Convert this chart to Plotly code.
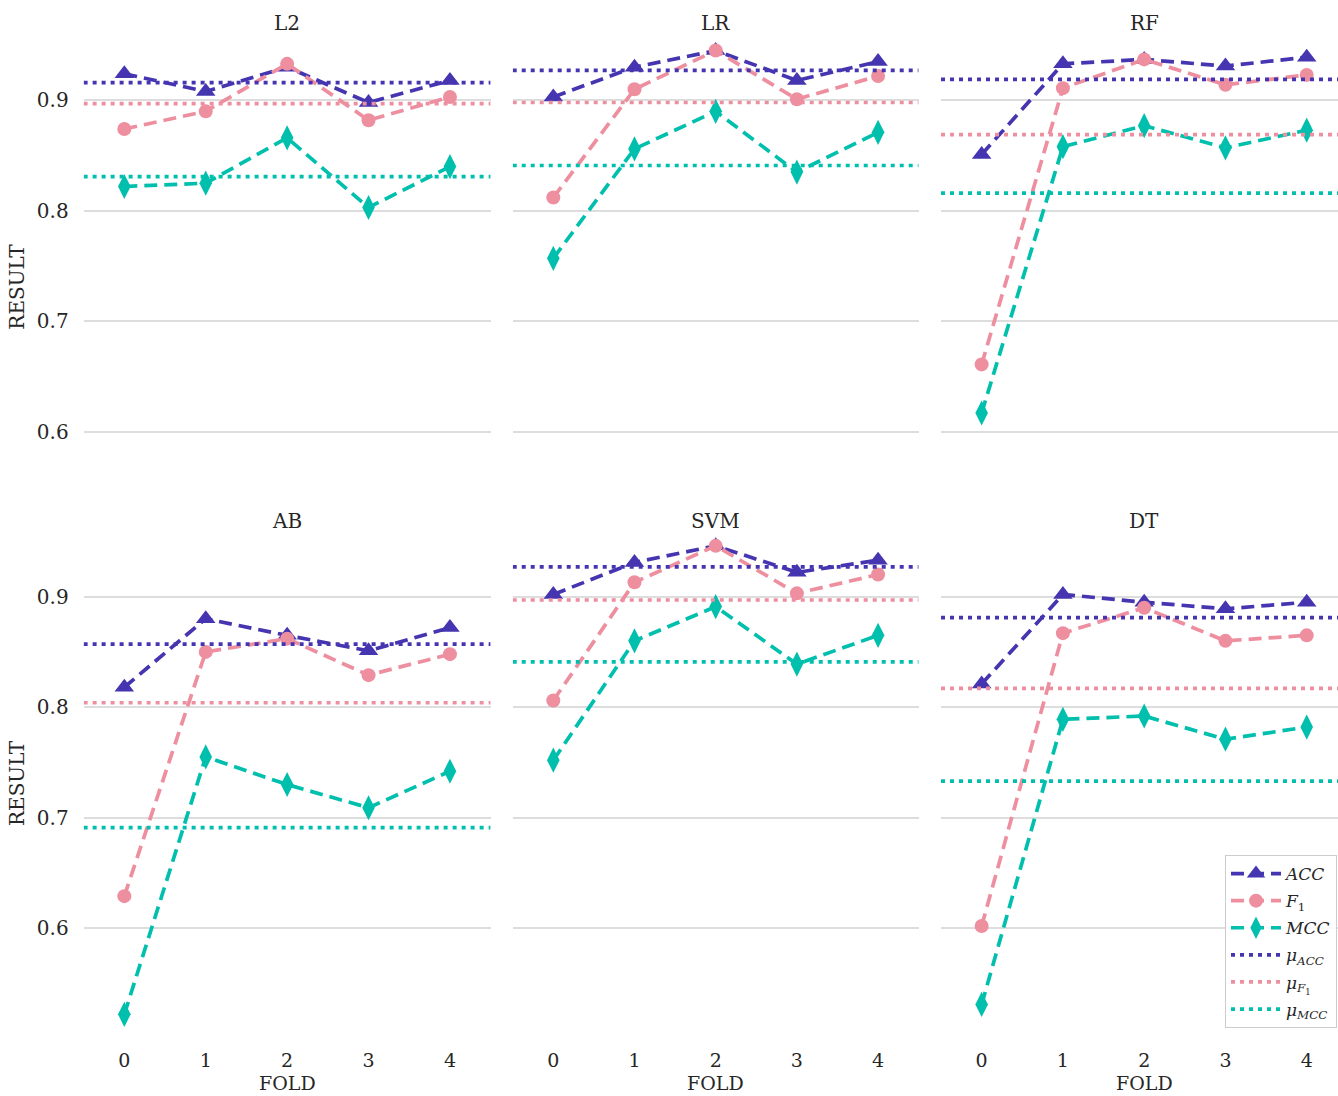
import plotly.graph_objects as go
from plotly.subplots import make_subplots

# ---------------- data ----------------
MODELS = ["L2", "LR", "RF", "AB", "SVM", "DT"]
FOLDS = [0, 1, 2, 3, 4]

ACC = [
    [0.924, 0.908, 0.930, 0.898, 0.918],   # L2
    [0.903, 0.930, 0.945, 0.918, 0.935],   # LR
    [0.851, 0.933, 0.937, 0.931, 0.939],   # RF
    [0.818, 0.880, 0.865, 0.851, 0.872],   # AB
    [0.902, 0.931, 0.946, 0.922, 0.933],   # SVM
    [0.821, 0.902, 0.895, 0.889, 0.895],   # DT
]
F1 = [
    [0.874, 0.890, 0.933, 0.882, 0.903],
    [0.812, 0.910, 0.945, 0.901, 0.922],
    [0.661, 0.911, 0.937, 0.914, 0.923],
    [0.629, 0.850, 0.862, 0.829, 0.848],
    [0.806, 0.913, 0.946, 0.903, 0.920],
    [0.602, 0.867, 0.890, 0.860, 0.865],
]
MCC = [
    [0.822, 0.825, 0.866, 0.803, 0.840],
    [0.757, 0.856, 0.890, 0.835, 0.871],
    [0.617, 0.858, 0.877, 0.857, 0.873],
    [0.522, 0.755, 0.730, 0.709, 0.742],
    [0.752, 0.860, 0.891, 0.839, 0.865],
    [0.531, 0.789, 0.792, 0.771, 0.782],
]
MEAN_ACC = [0.916, 0.927, 0.919, 0.857, 0.927, 0.881]
MEAN_F1 = [0.897, 0.898, 0.869, 0.804, 0.897, 0.817]
MEAN_MCC = [0.831, 0.841, 0.816, 0.691, 0.841, 0.733]

Y_TICKS = [0.6, 0.7, 0.8, 0.9]
Y_TICKTEXT = ["0.6", "0.7", "0.8", "0.9"]
X_TITLE = "FOLD"
Y_TITLE = "RESULT"

# ---------------- style ----------------
C_ACC = "#4535B0"
C_F1 = "#EE8FA0"
C_MCC = "#00BFAD"
FONT = "DejaVu Serif"
TXT = "#262626"
GRID = "#DDDDDD"
FS = 20
FSX = 19

COL_DOM = [[0.0625, 0.3667], [0.3832, 0.6866], [0.7033, 1.0]]
ROW_DOM = [[0.5052, 0.9710], [0.0523, 0.5181]]
X_RANGES = [[-0.5, 4.5], [-0.5, 4.5], [-0.5, 4.385]]
Y_RANGE = [0.5, 0.962]

fig = make_subplots(rows=2, cols=3)

DATA_DASH = "13px,7px"
MEAN_DASH = "4px,5px"
LW = 3.7

for i, m in enumerate(MODELS):
    r = i // 3 + 1
    c = i % 3 + 1
    first = i == 5
    xr = X_RANGES[c - 1]
    fig.add_trace(go.Scatter(
        x=FOLDS, y=ACC[i], mode="lines+markers", name="<i>ACC</i>",
        legendgroup="acc",
        line=dict(color=C_ACC, width=LW, dash=DATA_DASH),
        marker=dict(symbol="triangle-up", size=17, color=C_ACC),
        showlegend=first, legendrank=1), row=r, col=c)
    fig.add_trace(go.Scatter(
        x=FOLDS, y=F1[i], mode="lines+markers", name="<i>F</i><sub>1</sub>",
        legendgroup="f1",
        line=dict(color=C_F1, width=LW, dash=DATA_DASH),
        marker=dict(symbol="circle", size=14, color=C_F1),
        showlegend=first, legendrank=2), row=r, col=c)
    fig.add_trace(go.Scatter(
        x=FOLDS, y=MCC[i], mode="lines+markers", name="<i>MCC</i>",
        legendgroup="mcc",
        line=dict(color=C_MCC, width=LW, dash=DATA_DASH),
        marker=dict(symbol="diamond-tall", size=18, color=C_MCC),
        showlegend=first, legendrank=3), row=r, col=c)
    for k, (mv, col, nm) in enumerate([
            (MEAN_ACC[i], C_ACC, "<i>μ</i><sub><i>ACC</i></sub>"),
            (MEAN_F1[i], C_F1, "<i>μ</i><sub><i>F</i><sub>1</sub></sub>"),
            (MEAN_MCC[i], C_MCC, "<i>μ</i><sub><i>MCC</i></sub>")]):
        fig.add_trace(go.Scatter(
            x=[xr[0], 4.5], y=[mv, mv], mode="lines", name=nm,
            legendgroup="mean%d" % k,
            line=dict(color=col, width=LW, dash=MEAN_DASH),
            showlegend=first, legendrank=4 + k, hoverinfo="skip"), row=r, col=c)

for i in range(6):
    r = i // 3
    c = i % 3
    axn = "" if i == 0 else str(i + 1)
    fig.layout["xaxis" + axn].update(
        domain=COL_DOM[c], range=X_RANGES[c], showgrid=False, zeroline=False,
        showline=False, ticks="", tickvals=FOLDS, ticktext=[str(f) for f in FOLDS],
        showticklabels=(r == 1), tickfont=dict(family=FONT, size=FSX, color=TXT),
        ticklabelstandoff=8)
    fig.layout["yaxis" + axn].update(
        domain=ROW_DOM[r], range=Y_RANGE, showgrid=True, gridcolor=GRID,
        gridwidth=1.5, zeroline=False, showline=False, ticks="",
        tickvals=Y_TICKS, ticktext=Y_TICKTEXT, showticklabels=(c == 0),
        tickfont=dict(family=FONT, size=FS, color=TXT), ticklabelstandoff=14)
    if c == 0:
        fig.layout["yaxis" + axn].title = dict(
            text=Y_TITLE, font=dict(family=FONT, size=FS, color=TXT), standoff=6)

# subplot titles and x-axis titles (centred over the full axes width)
TITLE_Y = [1 - 23 / 1096, 1 - 521 / 1096]
FOLD_Y = 1 - 1083 / 1096
for i, m in enumerate(MODELS):
    r = i // 3
    c = i % 3
    d0, d1 = COL_DOM[c]
    x0, x1 = X_RANGES[c]
    full_right = d0 + (4.5 - x0) * (d1 - d0) / (x1 - x0)
    xc = (d0 + full_right) / 2
    fig.add_annotation(
        text=m, xref="paper", yref="paper", x=xc,
        y=TITLE_Y[r], xanchor="center", yanchor="middle", showarrow=False,
        font=dict(family=FONT, size=FS, color=TXT))
    if r == 1:
        fig.add_annotation(
            text=X_TITLE, xref="paper", yref="paper", x=xc,
            y=FOLD_Y, xanchor="center", yanchor="middle", showarrow=False,
            font=dict(family=FONT, size=FSX, color=TXT))

fig.update_layout(
    width=1338, height=1096,
    margin=dict(l=0, r=0, t=0, b=0, autoexpand=False),
    paper_bgcolor="white", plot_bgcolor="white",
    font=dict(family=FONT, size=FS, color=TXT),
    legend=dict(
        x=1337 / 1338, y=1 - 855 / 1096, xanchor="right", yanchor="top",
        bordercolor="#CCCCCC", borderwidth=1, bgcolor="rgba(255,255,255,0.85)",
        font=dict(family=FONT, size=17, color=TXT), itemwidth=50,
        tracegroupgap=2),
)

fig.write_html("out.html", config={"displayModeBar": False},
               post_script="document.body.style.margin='0px';")
